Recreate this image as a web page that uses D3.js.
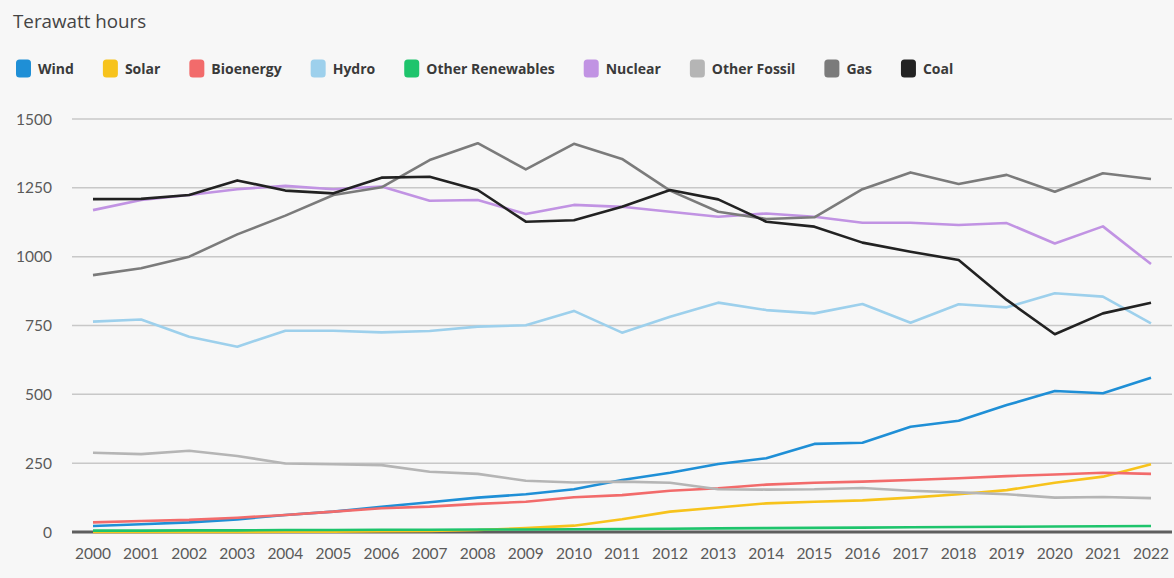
<!DOCTYPE html>
<html><head><meta charset="utf-8">
<script src="https://cdn.jsdelivr.net/npm/d3@7"></script>
<style>
html,body{margin:0;padding:0;background:#f7f7f7;}
svg{display:block;font-family:Lato,"Open Sans",sans-serif;}
</style></head>
<body><svg id="c" width="1174" height="578"></svg>
<script>
const years = d3.range(2000, 2023);
const yTicks = [0, 250, 500, 750, 1000, 1250, 1500];
const seriesNames = ["Wind","Solar","Bioenergy","Hydro","Other Renewables","Nuclear","Other Fossil","Gas","Coal"];
const seriesColors = ["#1f8fd6","#f7c31c","#f26b6b","#9dd0ec","#1ec46c","#c193e3","#b5b5b5","#7b7b7b","#222222"];
const wind = [22,28,35,46,62,74,92,108,125,137,155,189,215,247,268,320,324,382,404,461,512,504,560];
const solar = [0.1,0.2,0.3,0.5,0.7,1.5,2.5,4,7,14,23,46,74,89,104,110,115,125,137,152,179,201,246];
const bioenergy = [35,40,44,52,62,74,86,92,102,110,126,134,150,159,172,179,183,189,195,203,209,215,211];
const hydro = [764,772,709,673,731,731,725,730,746,751,803,724,782,833,806,794,828,760,827,816,867,855,758];
const otherRenewables = [5,5,6,6,7,7,8,8,9,9,10,11,12,13,14,15,16,17,18,19,20,21,22];
const nuclear = [1169,1206,1224,1245,1257,1245,1255,1203,1206,1155,1188,1181,1163,1145,1157,1145,1123,1123,1115,1122,1048,1110,973];
const otherFossil = [288,283,295,276,249,246,243,219,211,186,180,183,179,155,154,155,160,150,144,137,125,127,123];
const gas = [933,958,1000,1081,1149,1224,1252,1351,1412,1317,1410,1355,1240,1163,1137,1143,1245,1306,1264,1297,1236,1303,1282];
const coal = [1209,1210,1224,1277,1240,1230,1287,1290,1242,1127,1132,1181,1242,1208,1127,1109,1051,1018,988,843,718,794,833];
const seriesValues = [wind, solar, bioenergy, hydro, otherRenewables, nuclear, otherFossil, gas, coal];

const svg = d3.select("#c");
const W = 1174, H = 578;
svg.append("rect").attr("width", W).attr("height", H).attr("fill", "#f7f7f7");

const gridLeft = 72, gridRight = 1172;
const x = d3.scaleLinear().domain([2000, 2022]).range([93, 1151]);
const y = d3.scaleLinear().domain([0, 1500]).range([532, 119]);

// title
svg.append("text").attr("x", 13).attr("y", 28).attr("font-family", "'Open Sans', sans-serif")
  .attr("font-size", 18.8).attr("fill", "#444").text("Terawatt hours");

// legend
const lg = svg.append("g");
let lx = 16;
seriesNames.forEach((n, i) => {
  lg.append("rect").attr("x", lx).attr("y", 59.5).attr("width", 15).attr("height", 18).attr("rx", 3.5).attr("fill", seriesColors[i]);
  const t = lg.append("text").attr("x", lx + 22).attr("y", 74).attr("font-family", "'Open Sans', sans-serif")
    .attr("font-size", 14).attr("font-weight", 700).attr("fill", "#3a3a3a").text(n);
  lx = lx + 22 + t.node().getComputedTextLength() + 29;
});

// grid
svg.append("g").selectAll("line").data(yTicks.filter(d => d > 0)).join("line")
  .attr("x1", gridLeft).attr("x2", gridRight).attr("y1", d => y(d)).attr("y2", d => y(d))
  .attr("stroke", "#c8c8c8").attr("stroke-width", 1.5);

// y labels
svg.append("g").selectAll("text").data(yTicks).join("text")
  .attr("x", 52).attr("y", d => y(d) + 5.5).attr("text-anchor", "end")
  .attr("font-size", 15.5).attr("fill", "#5a5a5a").text(d => d);

// x labels
svg.append("g").selectAll("text").data(years).join("text")
  .attr("x", d => x(d)).attr("y", 559).attr("text-anchor", "middle")
  .attr("font-size", 15.5).attr("fill", "#5a5a5a").text(d => d);

// baseline
svg.append("line").attr("x1", gridLeft).attr("x2", gridRight).attr("y1", y(0)).attr("y2", y(0))
  .attr("stroke", "#5e5e5e").attr("stroke-width", 3);

const line = d3.line().x((d, i) => x(years[i])).y(d => y(d));
seriesValues.forEach((vals, i) => {
  svg.append("path").datum(vals).attr("d", line).attr("fill", "none")
    .attr("stroke", seriesColors[i]).attr("stroke-width", 2.6).attr("stroke-linejoin", "round");
});
</script></body></html>
